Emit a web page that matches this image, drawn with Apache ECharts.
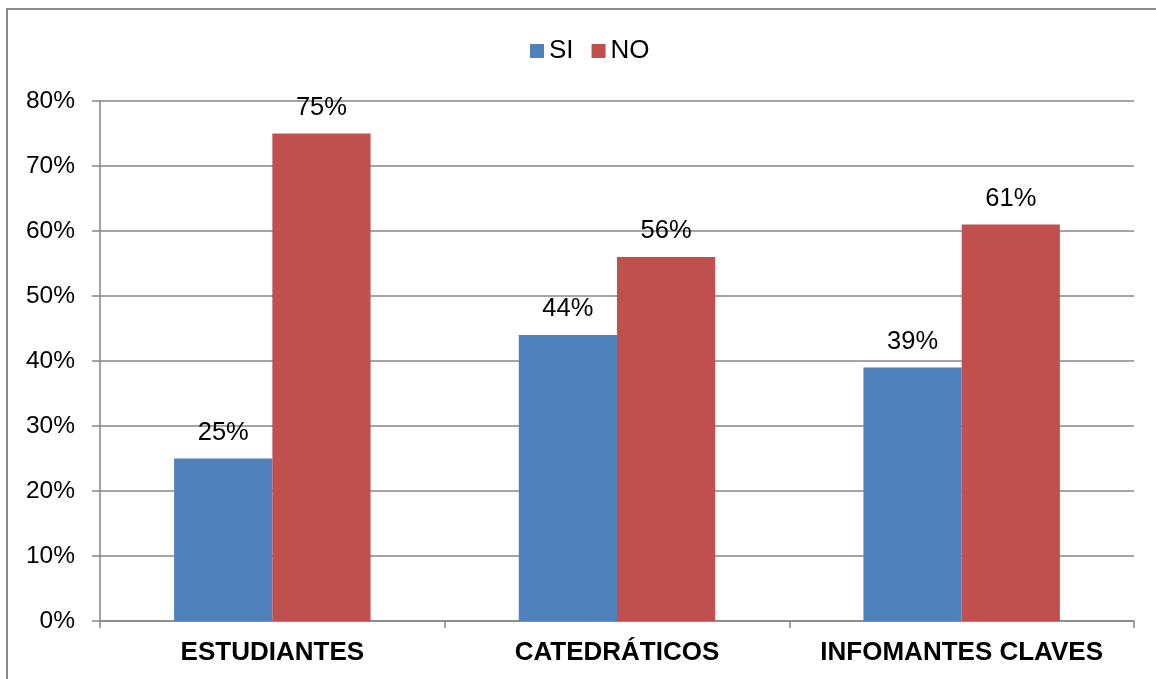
<!DOCTYPE html>
<html><head><meta charset="utf-8">
<script src="https://cdn.jsdelivr.net/npm/echarts@6/dist/echarts.min.js"></script>
<style>
html,body{margin:0;padding:0;background:#fff;}
#frame{position:absolute;left:6px;top:8px;width:1150px;height:671px;border-left:2px solid #8c8c8c;border-top:2px solid #8c8c8c;box-sizing:border-box;}
#c{position:absolute;left:0;top:0;width:1156px;height:679px;}
</style></head>
<body>
<div id="frame"></div>
<div id="c"></div>
<script>
const categories = ['ESTUDIANTES', 'CATEDRÁTICOS', 'INFOMANTES CLAVES'];
const siValues = [25, 44, 39];
const noValues = [75, 56, 61];
const yTicks = [0, 10, 20, 30, 40, 50, 60, 70, 80];

const chart = echarts.init(document.getElementById('c'), null, {renderer: 'canvas'});
const font = 'Liberation Sans, Arial, sans-serif';
const gray = '#868686';
chart.setOption({
  animation: false,
  backgroundColor: 'transparent',
  legend: {
    top: 33, left: 525,
    itemWidth: 14, itemHeight: 14, itemGap: 18,
    icon: 'rect',
    textStyle: {fontFamily: font, fontSize: 26, color: '#000'},
    data: ['SI', 'NO']
  },
  grid: {left: 100, right: 22, top: 101, bottom: 58, containLabel: false},
  xAxis: {
    type: 'category', data: categories,
    axisLine: {lineStyle: {color: gray, width: 1.5}},
    axisTick: {show: true, length: 7, interval: 0, lineStyle: {color: gray, width: 1.5}},
    axisLabel: {fontFamily: font, fontSize: 26, fontWeight: 'bold', color: '#000', margin: 19, interval: 0}
  },
  yAxis: {
    type: 'value', min: 0, max: 80, interval: 10,
    axisLine: {show: true, lineStyle: {color: gray, width: 1.5}},
    axisTick: {show: true, length: 8, lineStyle: {color: gray, width: 1.5}},
    splitLine: {show: true, lineStyle: {color: gray, width: 1.5}},
    axisLabel: {fontFamily: font, fontSize: 24.5, color: '#000', margin: 25,
      formatter: v => yTicks.includes(v) ? v + '%' : ''}
  },
  series: [
    {name: 'SI', type: 'bar', data: siValues, barGap: '0%', barCategoryGap: '43%',
     itemStyle: {color: '#4F81BD'},
     label: {show: true, position: 'top', distance: 13, formatter: '{c}%', fontFamily: font, fontSize: 25.5, color: '#000'}},
    {name: 'NO', type: 'bar', data: noValues, barGap: '0%', barCategoryGap: '43%',
     itemStyle: {color: '#C0504D'},
     label: {show: true, position: 'top', distance: 13, formatter: '{c}%', fontFamily: font, fontSize: 25.5, color: '#000'}}
  ]
});
</script>
</body></html>
